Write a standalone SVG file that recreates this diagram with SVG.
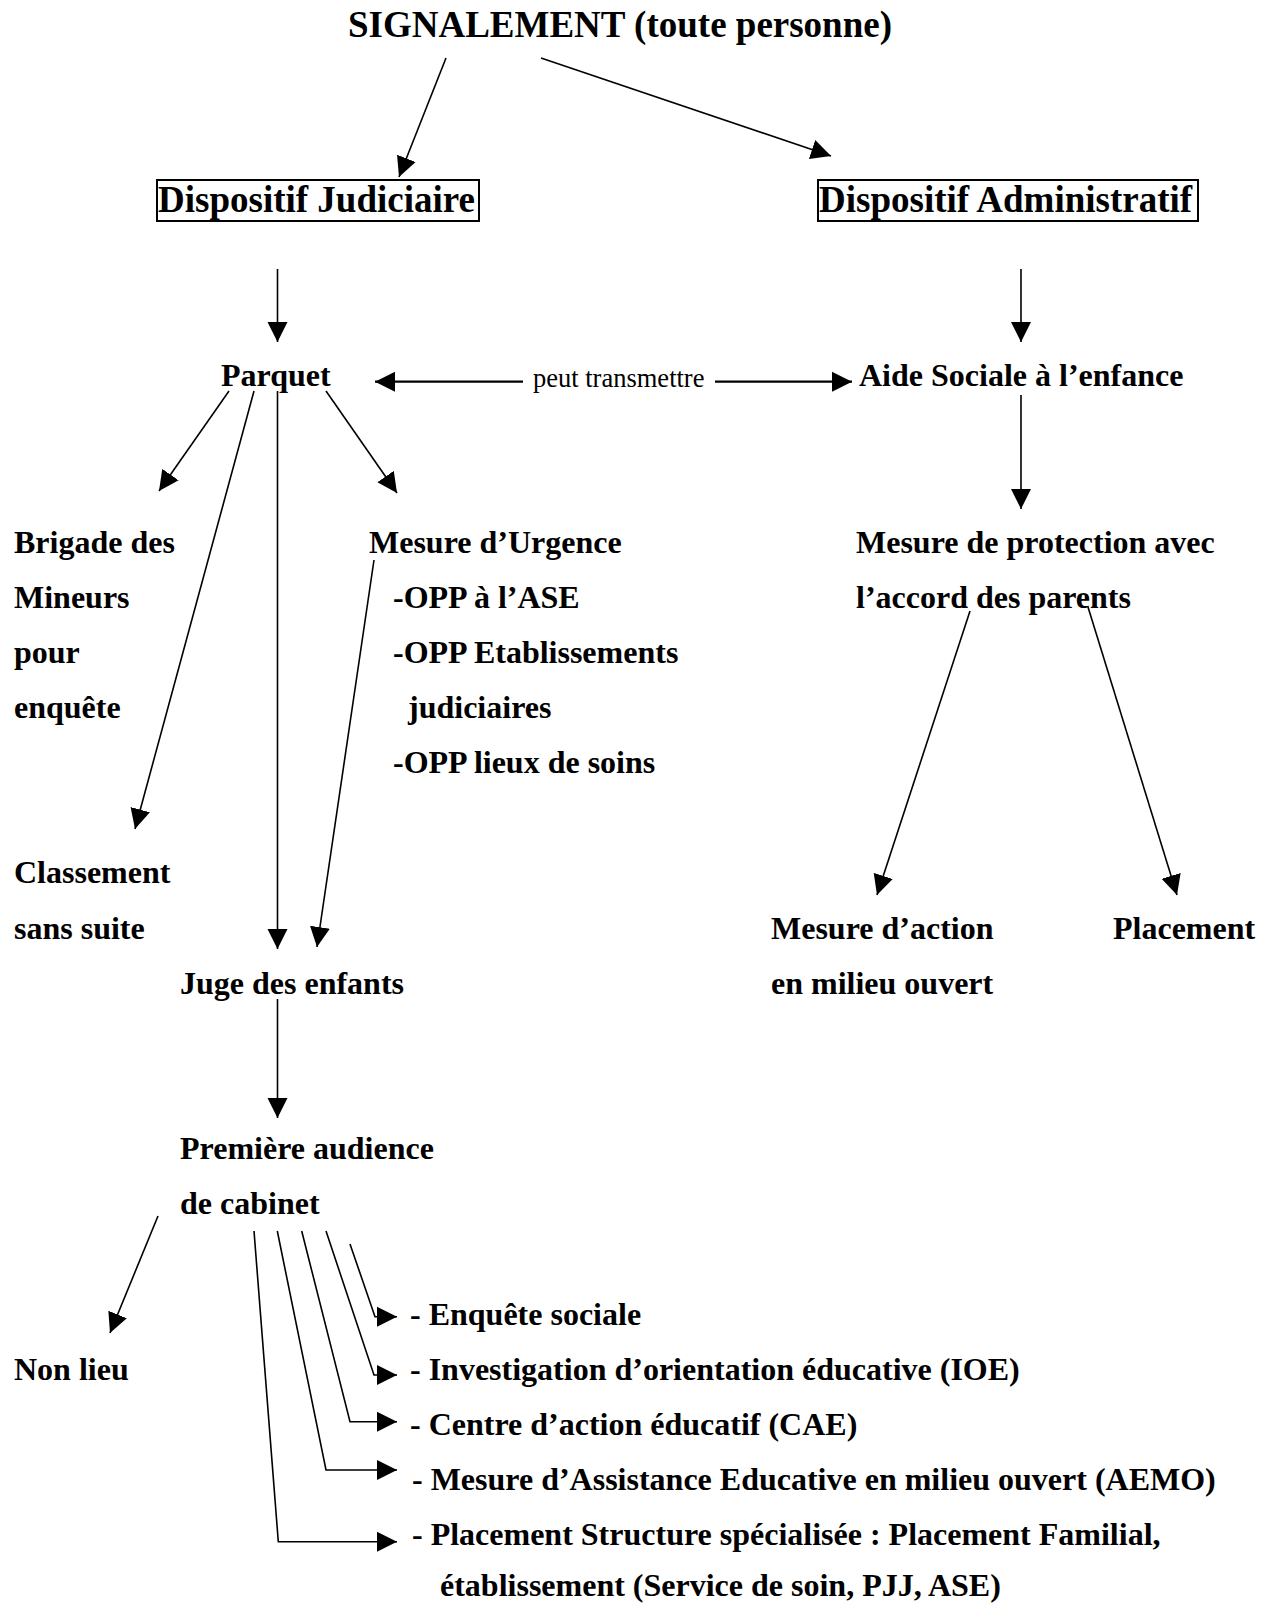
<svg xmlns="http://www.w3.org/2000/svg" width="1271" height="1604" viewBox="0 0 1271 1604">
<style>
.t{font-family:"Liberation Serif","Times New Roman",serif;font-weight:bold;font-size:32px;fill:#000}
.big{font-size:37px}
.s{font-family:"Liberation Serif","Times New Roman",serif;font-size:26.5px;fill:#000}
.c{fill:none;stroke:#000;stroke-width:1.6}
.box{fill:none;stroke:#000;stroke-width:2}
</style>
<defs>
<marker id="ah" markerUnits="userSpaceOnUse" markerWidth="21" markerHeight="21" viewBox="0 0 21 21" refX="20" refY="10.5" orient="auto">
<path d="M0,0.5 L20,10.5 L0,20.5 z" fill="#000"/>
</marker>
</defs>
<rect width="1271" height="1604" fill="#fff"/>

<g id="signalement"><text class="t big" x="620" y="37" text-anchor="middle">SIGNALEMENT (toute personne)</text></g>
<g id="dispositif-judiciaire"><rect class="box" x="157" y="180" width="322" height="41"/><text class="t big" x="158" y="212">Dispositif Judiciaire</text></g>
<g id="dispositif-administratif"><rect class="box" x="818" y="180" width="380" height="41"/><text class="t big" x="819" y="212">Dispositif Administratif</text></g>
<g id="parquet"><text class="t" x="221" y="386">Parquet</text></g>
<g id="aide-sociale"><text class="t" x="859" y="386">Aide Sociale à l’enfance</text></g>
<g id="brigade"><text class="t" x="14" y="552.5">Brigade des</text><text class="t" x="14" y="607.6">Mineurs</text><text class="t" x="14" y="662.8">pour</text><text class="t" x="14" y="718">enquête</text></g>
<g id="mesure-urgence"><text class="t" x="369" y="552.5">Mesure d’Urgence</text><text class="t" x="393" y="607.6">-OPP à l’ASE</text><text class="t" x="393" y="662.8">-OPP Etablissements</text><text class="t" x="408" y="718">judiciaires</text><text class="t" x="393" y="773.1">-OPP lieux de soins</text></g>
<g id="classement"><text class="t" x="14" y="883.4">Classement</text><text class="t" x="14" y="938.5">sans suite</text></g>
<g id="juge"><text class="t" x="180" y="993.7">Juge des enfants</text></g>
<g id="mesure-protection"><text class="t" x="856" y="552.5">Mesure de protection avec</text><text class="t" x="856" y="607.6">l’accord des parents</text></g>
<g id="mesure-action"><text class="t" x="771" y="938.5">Mesure d’action</text><text class="t" x="771" y="993.7">en milieu ouvert</text></g>
<g id="placement"><text class="t" x="1113" y="938.5">Placement</text></g>
<g id="premiere-audience"><text class="t" x="180" y="1159.1">Première audience</text><text class="t" x="180" y="1214.3">de cabinet</text></g>
<g id="non-lieu"><text class="t" x="14" y="1379.7">Non lieu</text></g>
<g id="enquete-sociale"><text class="t" x="410" y="1324.6">- Enquête sociale</text></g>
<g id="ioe"><text class="t" x="410" y="1379.7">- Investigation d’orientation éducative (IOE)</text></g>
<g id="cae"><text class="t" x="410" y="1434.9">- Centre d’action éducatif (CAE)</text></g>
<g id="aemo"><text class="t" x="412" y="1490">- Mesure d’Assistance Educative en milieu ouvert (AEMO)</text></g>
<g id="placement-structure"><text class="t" x="412" y="1545.2">- Placement Structure spécialisée : Placement Familial,</text><text class="t" x="440" y="1595.5">établissement (Service de soin, PJJ, ASE)</text></g>
<g id="peut-transmettre"><text class="s" x="533" y="387">peut transmettre</text></g>

<g id="connectors">
<line class="c" x1="446" y1="58" x2="399" y2="177" marker-end="url(#ah)"/>
<line class="c" x1="541" y1="58" x2="831" y2="156" marker-end="url(#ah)"/>
<line class="c" x1="277.5" y1="269" x2="277.5" y2="342" marker-end="url(#ah)"/>
<line class="c" x1="1021" y1="269" x2="1021" y2="342" marker-end="url(#ah)"/>
<line class="c" style="stroke-width:2.2" x1="523" y1="381.7" x2="375" y2="381.7" marker-end="url(#ah)"/>
<line class="c" style="stroke-width:2.2" x1="715" y1="381.7" x2="852" y2="381.7" marker-end="url(#ah)"/>
<line class="c" x1="1021" y1="395" x2="1021" y2="509" marker-end="url(#ah)"/>
<line class="c" x1="229" y1="391" x2="159" y2="491" marker-end="url(#ah)"/>
<line class="c" x1="254" y1="391" x2="135" y2="829" marker-end="url(#ah)"/>
<line class="c" x1="277.5" y1="391" x2="277.5" y2="949" marker-end="url(#ah)"/>
<line class="c" x1="326" y1="391" x2="397" y2="493" marker-end="url(#ah)"/>
<line class="c" x1="374" y1="560" x2="317" y2="947" marker-end="url(#ah)"/>
<line class="c" x1="970" y1="611" x2="877" y2="895" marker-end="url(#ah)"/>
<line class="c" x1="1088" y1="607" x2="1177" y2="895" marker-end="url(#ah)"/>
<line class="c" x1="277.5" y1="999" x2="277.5" y2="1118" marker-end="url(#ah)"/>
<line class="c" x1="158" y1="1216" x2="110" y2="1333" marker-end="url(#ah)"/>
<polyline class="c" points="350,1244 375,1316.7 397,1316.7" marker-end="url(#ah)"/>
<polyline class="c" points="326,1231 374,1375 397,1375" marker-end="url(#ah)"/>
<polyline class="c" points="301.7,1231 350,1421.7 397,1421.7" marker-end="url(#ah)"/>
<polyline class="c" points="277.3,1231 326,1470 397,1470" marker-end="url(#ah)"/>
<polyline class="c" points="254,1231 278.3,1541.7 397,1541.7" marker-end="url(#ah)"/>
</g>
</svg>
